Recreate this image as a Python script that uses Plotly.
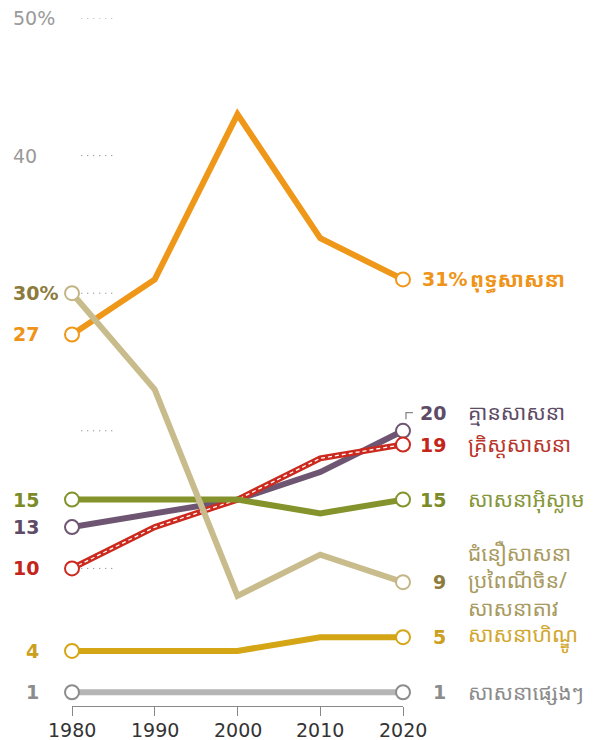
import plotly.graph_objects as go

years = [1980, 1990, 2000, 2010, 2020]
buddhist = [27, 31, 43, 34, 31]
folk = [30, 23, 8, 11, 9]
unaffiliated = [13, 14, 15, 17, 20]
christian = [10, 13, 15, 18, 19]
muslim = [15, 15, 15, 14, 15]
hindu = [4, 4, 4, 5, 5]
other = [1, 1, 1, 1, 1]

names = {
    "buddhist": "ពុទ្ធសាសនា",
    "unaffiliated": "គ្មានសាសនា",
    "christian": "គ្រិស្តសាសនា",
    "muslim": "សាសនាអ៊ិស្លាម",
    "folk": "ជំនឿសាសនា<br>ប្រពៃណីចិន/<br>សាសនាតាវ",
    "hindu": "សាសនាហិណ្ឌូ",
    "other": "សាសនាផ្សេងៗ",
}
grid_vals = [10, 20, 30, 40, 50]
ytick_labels = {50: "50%", 40: "40"}
year_labels = [str(y) for y in years]

NUM = "DejaVu Sans"
KH = "Noto Sans Khmer, Khmer OS, Noto Sans, DejaVu Sans, sans-serif"

# (key, values, line color, marker color, number color, text color)
series = [
    ("other", other, "#B5B5B5", "#8C8C8C", "#8C8C8C", "#8C8C8C"),
    ("hindu", hindu, "#D4A514", "#D4A514", "#CBA020", "#D2A72E"),
    ("buddhist", buddhist, "#EF9719", "#EF9719", "#EE9418", "#EE9418"),
    ("unaffiliated", unaffiliated, "#6E5672", "#6E5672", "#5E4B66", "#5E4B66"),
    ("christian", christian, "#CC2A1E", "#CC2A1E", "#C4241A", "#B8352B"),
    ("muslim", muslim, "#84932B", "#84932B", "#7C8B28", "#86963A"),
    ("folk", folk, "#C9BC8C", "#C3B585", "#8C7B3C", "#A89A60"),
]

fig = go.Figure()
for key, vals, lc, mc, nc, tc in series:
    fig.add_trace(go.Scatter(x=years, y=vals, mode="lines",
                             line=dict(color=lc, width=6), cliponaxis=False,
                             hoverinfo="skip", showlegend=False))
    if key == "christian":
        fig.add_trace(go.Scatter(x=years, y=vals, mode="lines",
                                 line=dict(color="white", width=1.3, dash="4px,3px"),
                                 cliponaxis=False, hoverinfo="skip", showlegend=False))
    fig.add_trace(go.Scatter(x=[years[0], years[-1]], y=[vals[0], vals[-1]], mode="markers",
                             marker=dict(size=14, color="white", line=dict(color=mc, width=2)),
                             cliponaxis=False, hoverinfo="skip", showlegend=False))

# dotted gridline stubs
for g in grid_vals:
    fig.add_shape(type="line", x0=1981.1, x1=1985.1, y0=g, y1=g, xref="x", yref="y",
                  line=dict(color="#8A8A8A", width=1, dash="1.2px,4.8px"), layer="below")

ann = []
# x axis year labels
for yr, lab in zip(years, year_labels):
    ann.append(dict(x=yr, y=0, xref="x", yref="paper", text=lab, showarrow=False,
                    xanchor="center", yanchor="middle", yshift=-24,
                    font=dict(family=NUM, size=19, color="#333333")))
# y tick labels
for v, t in ytick_labels.items():
    ann.append(dict(x=1980, y=v, xref="x", yref="y", text=t, showarrow=False,
                    xanchor="left", xshift=-61, font=dict(family=NUM, size=19, color="#9A9A9A")))

# left value labels
for key, vals, lc, mc, nc, tc in series:
    v0 = vals[0]
    if key == "folk":
        ann.append(dict(x=1980, y=v0, xref="x", yref="y", text="<b>%d%%</b>" % v0, showarrow=False,
                        xanchor="left", xshift=-61, font=dict(family=NUM, size=19, color=nc)))
    else:
        ann.append(dict(x=1980, y=v0, xref="x", yref="y", text="<b>%d</b>" % v0, showarrow=False,
                        xanchor="right", xshift=-31, font=dict(family=NUM, size=19, color=nc)))

# right value labels + names
yshift_map = {"unaffiliated": 18}
for key, vals, lc, mc, nc, tc in series:
    v1 = vals[-1]
    ys = yshift_map.get(key, 0)
    if key == "buddhist":
        ann.append(dict(x=2020, y=v1, xref="x", yref="y", text="<b>%d%%</b>" % v1, showarrow=False,
                        xanchor="left", xshift=17, yshift=ys, font=dict(family=NUM, size=19, color=nc)))
        ann.append(dict(x=2020, y=v1, xref="x", yref="y", text="<b>%s</b>" % names[key], showarrow=False,
                        xanchor="left", xshift=65, yshift=ys, font=dict(family=KH, size=21, color=tc)))
    else:
        ann.append(dict(x=2020, y=v1, xref="x", yref="y", text="<b>%d</b>" % v1, showarrow=False,
                        xanchor="right", xshift=45, yshift=ys, font=dict(family=NUM, size=19, color=nc)))
        ann.append(dict(x=2020, y=v1, xref="x", yref="y", text=names[key], showarrow=False,
                        xanchor="left", xshift=63, yshift=ys + (2 if key == "folk" else 0),
                        align="left", font=dict(family=KH, size=21, color=tc)))

# leader bracket for the "20" label
fig.add_shape(type="path", xref="paper", yref="paper",
              path="M 1.009,0.4167 L 1.009,0.4265 L 1.030,0.4265",
              line=dict(color="#888888", width=1.3))

fig.update_layout(
    width=585, height=732,
    margin=dict(l=64, r=190, t=10, b=34),
    plot_bgcolor="white", paper_bgcolor="white",
    showlegend=False,
    annotations=ann,
    xaxis=dict(range=[1980, 2020], tickvals=years, showticklabels=False,
               showgrid=False, zeroline=False, showline=True, linecolor="#888888", linewidth=1,
               ticks="outside", ticklen=9, tickcolor="#888888", tickwidth=1, automargin=False,
               fixedrange=True),
    yaxis=dict(range=[0, 50], showgrid=False, zeroline=False, showticklabels=False,
               showline=False, fixedrange=True, automargin=False),
)

fig.write_html("out.html")
